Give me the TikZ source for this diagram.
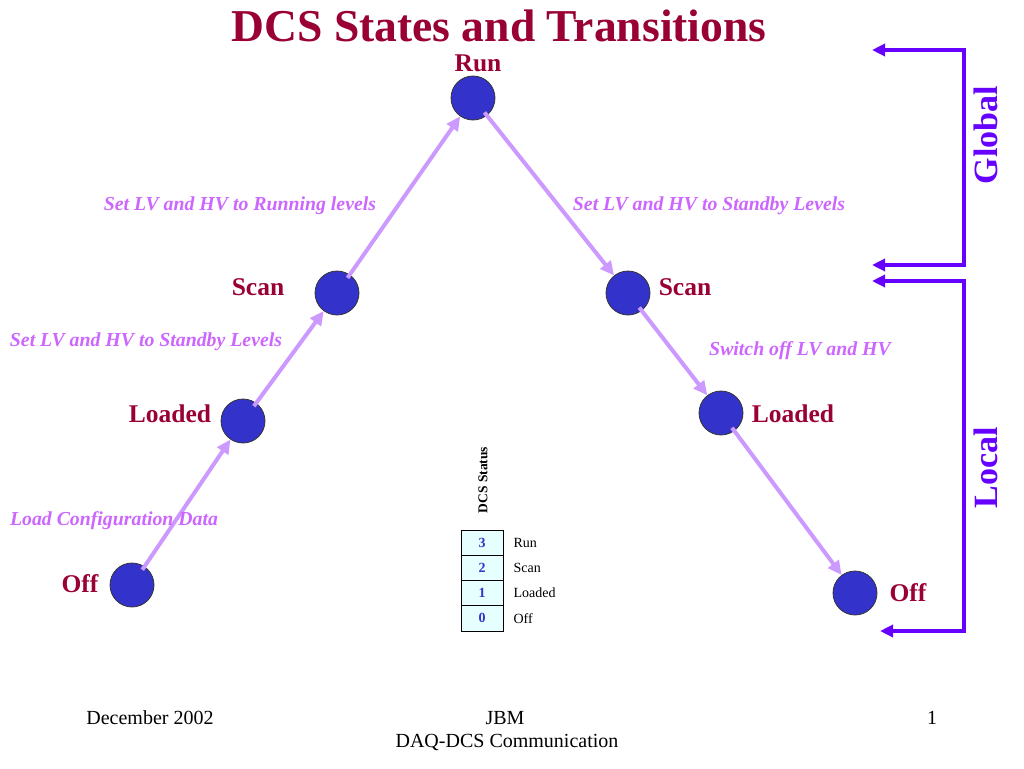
\documentclass[tikz,border=0pt]{standalone}
\usepackage{fontspec}
\setmainfont{Liberation Serif}
\usetikzlibrary{arrows.meta,positioning}
\definecolor{titlered}{RGB}{153,0,51}
\definecolor{translilac}{RGB}{204,102,255}
\definecolor{arrowlilac}{RGB}{204,153,255}
\definecolor{stateblue}{RGB}{51,51,204}
\definecolor{bracketviolet}{RGB}{102,0,255}
\definecolor{cellcyan}{RGB}{230,255,255}

\tikzset{
  state/.style={circle, draw=black!80, line width=0.8pt, fill=stateblue, minimum size=44pt, inner sep=0pt},
  statelabel/.style={text=titlered, font=\fontsize{25.5}{30}\selectfont\bfseries},
  translabel/.style={text=translilac, font=\fontsize{19.8}{23}\selectfont\bfseries\itshape},
  trans/.style={draw=arrowlilac, line width=4pt, -{Triangle[length=14pt,width=13pt]}, shorten <=-4pt},
  scope/.style={draw=bracketviolet, line width=3.5pt, {Triangle[length=13pt,width=12pt]}-{Triangle[length=13pt,width=12pt]}},
  footer/.style={font=\fontsize{20}{23}\selectfont}
}

\begin{document}
\begin{tikzpicture}[x=1pt,y=-1pt]
  \useasboundingbox (0,0) rectangle (1024,768);

  % Title
  \node[text=titlered, font=\fontsize{45.6}{52}\selectfont\bfseries] (title) at (499,26) {DCS States and Transitions};

  % States
  \node[state] (run) at (473,98) {};
  \node[state] (scanL) at (337,293) {};
  \node[state] (loadL) at (243,421) {};
  \node[state] (offL) at (132,585) {};
  \node[state] (scanR) at (628,293) {};
  \node[state] (loadR) at (721,413) {};
  \node[state] (offR) at (855,593) {};

  \node[statelabel] (runlab) at (478,63) {Run};
  \node[statelabel] (scanLlab) at (258,287) {Scan};
  \node[statelabel] (loadLlab) at (170,414) {Loaded};
  \node[statelabel] (offLlab) at (80,584) {Off};
  \node[statelabel] (scanRlab) at (685,287) {Scan};
  \node[statelabel] (loadRlab) at (793,414) {Loaded};
  \node[statelabel] (offRlab) at (908,593) {Off};

  % Transitions
  \draw[trans] (offL) -- (loadL);
  \draw[trans] (loadL) -- (scanL);
  \draw[trans] (scanL) -- (run);
  \draw[trans] (run) -- (scanR);
  \draw[trans] (scanR) -- (loadR);
  \draw[trans] (loadR) -- (offR);

  \node[translabel] (up3) at (240,206) {Set LV and HV to Running levels};
  \node[translabel] (down1) at (709,206) {Set LV and HV to Standby Levels};
  \node[translabel] (up2) at (146,342) {Set LV and HV to Standby Levels};
  \node[translabel] (down2) at (800,351) {Switch off LV and HV};
  \node[translabel] (up1) at (114,521) {Load Configuration Data};

  % Global / Local brackets
  \coordinate (gtop) at (872,50);
  \coordinate (gtopc) at (964,50);
  \coordinate (gbotc) at (964,265);
  \coordinate (gbot) at (872,265);
  \coordinate (ltop) at (872,281);
  \coordinate (ltopc) at (964,281);
  \coordinate (lbotc) at (964,631);
  \coordinate (lbot) at (880,631);
  \draw[scope] (gtop) -- (gtopc) -- (gbotc) -- (gbot);
  \draw[scope] (ltop) -- (ltopc) -- (lbotc) -- (lbot);
  \node[rotate=90, text=bracketviolet, font=\fontsize{34}{40}\selectfont\bfseries] (global) at (986,135) {Global};
  \node[rotate=90, text=bracketviolet, font=\fontsize{34}{40}\selectfont\bfseries] (local) at (986,468) {Local};

  % Status table
  \node[rotate=90, font=\fontsize{13.5}{15}\selectfont\bfseries] (status) at (483,480) {DCS Status};
  \foreach \i/\n/\s in {0/3/Run, 1/2/Scan, 2/1/Loaded, 3/0/Off} {
    \draw[fill=cellcyan, line width=0.8pt] (461,530+25.25*\i) rectangle (503,555.25+25.25*\i);
    \node[text=stateblue, font=\fontsize{14}{16}\selectfont\bfseries] (num\n) at (482,542.6+25.25*\i) {\n};
    \node[anchor=west, font=\fontsize{14}{16}\selectfont] (name\n) at (510,542.6+25.25*\i) {\s};
  }

  % Footer
  \node[footer] (date) at (150,718) {December 2002};
  \node[footer] (author) at (505,718) {JBM};
  \node[footer] (talk) at (507,742) {DAQ-DCS Communication};
  \node[footer] (page) at (932,718) {1};
\end{tikzpicture}
\end{document}
